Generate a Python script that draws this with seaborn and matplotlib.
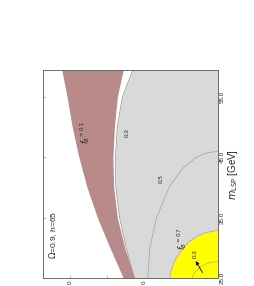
import matplotlib
matplotlib.use("Agg")
import matplotlib.pyplot as plt
import seaborn as sns
import pandas as pd

sns.set_style("white")
plt.rcParams['font.family'] = ['Liberation Sans', 'DejaVu Sans']

# m_LSP grid (GeV) and band edges (vertical-axis quantity, plotted leftwards)
m_band = [25, 30, 35, 40, 45, 50, 55, 59.4]
brown_left = [128, 146, 163, 177, 188, 197, 204, 211]
brown_right = [113, 126, 136, 141, 142, 140, 136, 128]
gray_edge = [113, 124, 133, 138, 138.5, 136, 129, 115]

# f_B = 0.5 contour
m_c05 = [25, 30, 35, 40, 43, 45, 45.6, 46]
y_c05 = [95, 92, 83, 66, 49, 29, 18, 0]

# f_B = 0.7 contour (yellow region)
m_c07 = [25, 26, 28, 30, 31, 32, 32.5, 32.9]
y_c07 = [65, 64, 58, 47, 39, 27, 17, 0]

# inner 0.3 contour
m_c03 = [25, 26, 27, 27.5, 27.8]
y_c03 = [35, 31, 22, 13, 0]

x_ticks = [25, 35, 45, 55]
x_tick_labels = ["25.0", "35.0", "45.0", "55.0"]
y_ticks = [100, 200]
y_tick_labels = ["0", "0"]

fig = plt.figure(figsize=(2.55, 2.86), dpi=100)
ax = fig.add_axes([43/255, 8/286, 175/255, 208/286])

ax.fill_betweenx(m_band, 0, gray_edge, color="#d9d9d9", lw=0)
ax.fill_betweenx(m_band, brown_right, brown_left, color="#b88a8a", lw=0)
ax.fill_betweenx(m_c07, 0, y_c07, color="#ffff00", lw=0)

lines = [
    (m_band, gray_edge, "#8c8c8c"),
    (m_c05, y_c05, "#a0a0a0"),
    (m_c07, y_c07, "#b8b050"),
    (m_c03, y_c03, "#b8b050"),
]
for mm, yy, c in lines:
    df = pd.DataFrame({"Y": yy, "m": mm})
    sns.lineplot(data=df, x="Y", y="m", sort=False, estimator=None,
                 color=c, lw=0.5, ax=ax)

ax.set_xlim(236.4, 0)
ax.set_ylim(25, 59.4)

fs = 4.5
ax.text(123, 49, "0.3", rotation=90, fontsize=fs, ha="center", va="center")
ax.text(180, 49, r"$f_B{}^{=0.1}$", rotation=90, fontsize=5.5,
        ha="center", va="center")
ax.text(76, 41.5, "0.5", rotation=90, fontsize=fs, ha="center", va="center")
ax.text(49, 31.6, r"$f_B{}^{=0.7}$", rotation=90, fontsize=5.5,
        ha="center", va="center")
ax.text(31, 29.0, "0.3", rotation=90, fontsize=fs, ha="center", va="center")
ax.annotate("", xy=(30, 27.8), xytext=(21, 25.9),
            arrowprops=dict(arrowstyle="-|>", lw=0.6, color="black",
                            mutation_scale=5, shrinkA=0, shrinkB=0))
ax.text(223, 32.2, r"$\Omega$=0.9, h=65", rotation=90, fontsize=6,
        ha="center", va="center")

ax.yaxis.tick_right()
ax.yaxis.set_label_position("right")
ax.set_yticks(x_ticks)
ax.set_yticklabels(x_tick_labels, rotation=90, va="center", fontsize=4.5)
ax.set_xticks(y_ticks)
ax.set_xticklabels(y_tick_labels, rotation=90, ha="center", fontsize=4.5)
ax.set_xticks([50, 150], minor=True)
ax.set_ylabel(r"$m_{\rm LSP}$ [GeV]", rotation=90, fontsize=7, labelpad=1)
ax.set_xlabel("")
ax.tick_params(axis="both", which="both", direction="in", length=2,
               width=0.4, color="#888888", pad=1.5,
               top=True, bottom=True, left=True, right=True)
for s in ax.spines.values():
    s.set_color("#555555")
    s.set_linewidth(0.6)

fig.savefig("out.png", dpi=100)
